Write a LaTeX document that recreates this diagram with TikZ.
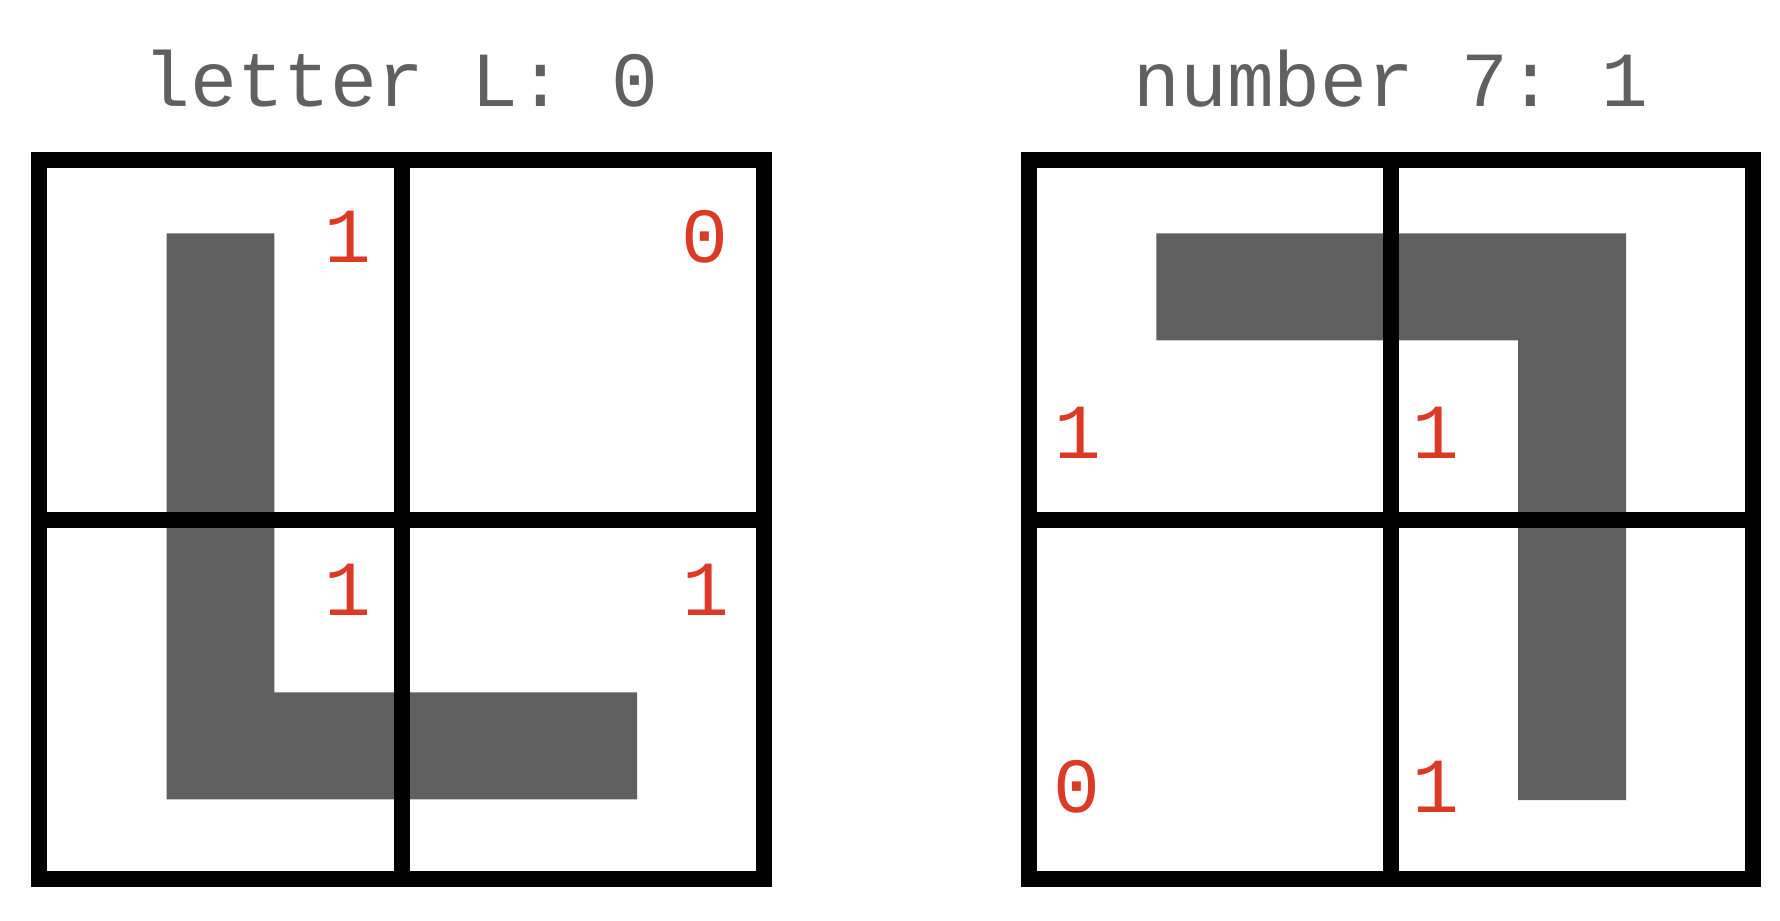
\documentclass[tikz,border=0pt]{standalone}
\usepackage{fontspec}
\setmonofont{Liberation Mono}
\definecolor{titlegray}{HTML}{606060}
\definecolor{shapegray}{HTML}{5F5F5F}
\definecolor{bitred}{HTML}{DB3A26}

\begin{document}
\begin{tikzpicture}[x=0.5pt,y=-0.5pt,
  title/.style={font=\ttfamily\fontsize{39}{41}\selectfont,text=titlegray,inner sep=0pt,anchor=base},
  bit/.style={font=\ttfamily\fontsize{39}{41}\selectfont,text=bitred,inner sep=0pt,anchor=base},
  glyph/.style={fill=shapegray},
  frame/.style={draw=black,line width=8pt}]
  \useasboundingbox (0,0) rectangle (1780,920);

  %left
  \node[title] (titleL) at (401,106) {letter L: 0};
  \fill[glyph] (166.6,233.3) -- (274.4,233.3) -- (274.4,692.3) -- (637.2,692.3) -- (637.2,799.3) -- (166.6,799.3) -- cycle;
  \draw[frame] (39.3,160.3) rectangle (763.8,878.7);
  \draw[frame] (401.6,160.3) -- (401.6,878.7);
  \draw[frame] (39.3,519.5) -- (763.8,519.5);
  \node[bit] (bitLa) at (348,262) {1};
  \node[bit] (bitLb) at (705,262) {0};
  \node[bit] (bitLc) at (348,615.7) {1};
  \node[bit] (bitLd) at (705.6,615.7) {1};

  %right
  \node[title] (titleSeven) at (1391,106) {number 7: 1};
  \fill[glyph] (1156.4,233.3) -- (1626,233.3) -- (1626,800) -- (1518,800) -- (1518,340.3) -- (1156.4,340.3) -- cycle;
  \draw[frame] (1028.6,160.3) rectangle (1753,878.7);
  \draw[frame] (1390.5,160.3) -- (1390.5,878.7);
  \draw[frame] (1028.6,519.5) -- (1753,519.5);
  \node[bit] (bitRa) at (1077.5,458) {1};
  \node[bit] (bitRb) at (1435.6,458) {1};
  \node[bit] (bitRc) at (1076.7,812.7) {0};
  \node[bit] (bitRd) at (1435.6,812.7) {1};
\end{tikzpicture}
\end{document}
